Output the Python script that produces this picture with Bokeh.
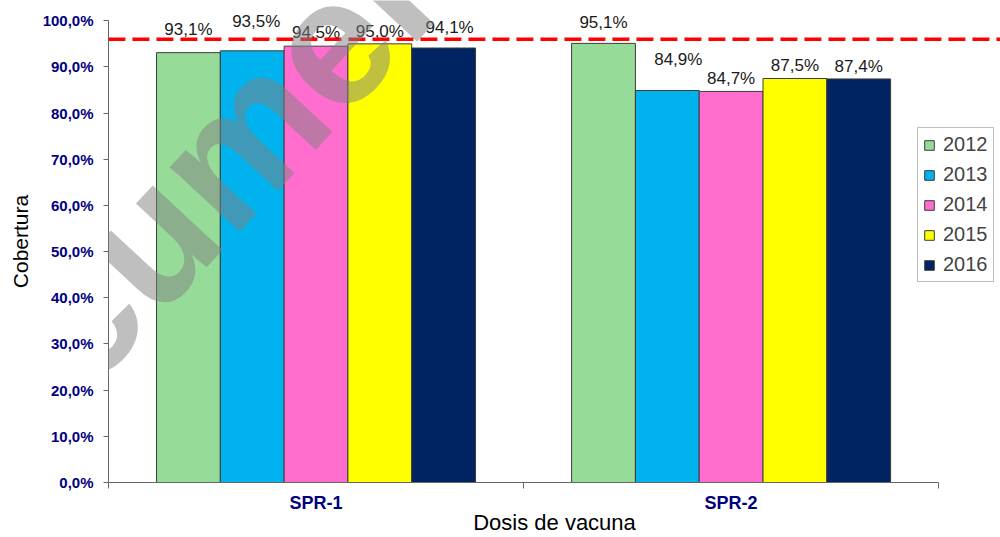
import math
from bokeh.plotting import figure
from bokeh.models import (ColumnDataSource, Range1d, FixedTicker, LabelSet,
                          Label, Arrow, Legend, LegendItem)
from bokeh.core.properties import value
from bokeh.embed import file_html
from bokeh.resources import INLINE

# ---- data -------------------------------------------------------------
categories = ["SPR-1", "SPR-2"]
years = ["2012", "2013", "2014", "2015", "2016"]
cov_2012 = [93.1, 95.1]
cov_2013 = [93.5, 84.9]
cov_2014 = [94.5, 84.7]
cov_2015 = [95.0, 87.5]
cov_2016 = [94.1, 87.4]
target = 96.0
y_ticks = [0, 10, 20, 30, 40, 50, 60, 70, 80, 90, 100]
y_tick_labels = ["0,0%", "10,0%", "20,0%", "30,0%", "40,0%", "50,0%",
                 "60,0%", "70,0%", "80,0%", "90,0%", "100,0%"]
x_title = "Dosis de vacuna"
y_title = "Cobertura"
watermark = "Documento"

series = [cov_2012, cov_2013, cov_2014, cov_2015, cov_2016]
colors = ["#96DC98", "#00B3EF", "#FF6ECF", "#FFFF00", "#002462"]

# per-label nudges (px) for the value labels, by year then category
label_dx = [[0, 0], [4, 11], [0, 0], [0, 0], [6, 0]]
label_dy = [[11, 8], [17, 18], [1, 0], [0, 0], [8, 0]]
LABEL_LIFT = 3

FONT = "Liberation Sans"
NAVY = "#000080"
AXIS_GREY = "#666666"

# the frame runs to the top and right edges; axis lines are bounded instead
p = figure(width=1000, height=537, output_backend="svg", toolbar_location=None,
           x_range=Range1d(0, 2.149), y_range=Range1d(0, 104.39),
           min_border_left=108, min_border_right=0,
           min_border_top=0, min_border_bottom=50)
p.outline_line_color = None
p.xgrid.visible = False
p.ygrid.visible = False
p.background_fill_color = "white"
p.border_fill_color = "white"

n = len(years)
bar_w = 0.1537
legend_items = []
for j, (yr, vals, col) in enumerate(zip(years, series, colors)):
    xs = [i + 0.5 + (j - (n - 1) / 2) * bar_w for i in range(len(categories))]
    src = ColumnDataSource(dict(
        x=xs, top=vals,
        txt=[f"{v:.1f}".replace(".", ",") + "%" for v in vals],
        dx=label_dx[j], dy=[d + LABEL_LIFT for d in label_dy[j]]))
    r = p.vbar(x="x", top="top", width=bar_w, source=src,
               fill_color=col, line_color="#3c3c3c", line_width=1)
    legend_items.append(LegendItem(label=yr, renderers=[r]))
    p.add_layout(LabelSet(x="x", y="top", text="txt", source=src,
                          x_offset="dx", y_offset="dy",
                          text_align="center", text_baseline="bottom",
                          text_font=value(FONT), text_font_size=value("17px"),
                          text_color="#1a1a1a"))

# target line
p.add_layout(Arrow(x_start=-0.058, y_start=target, x_end=2.2, y_end=target,
                   start=None, end=None, line_color="#FF0000",
                   line_width=3.5, line_dash="17 7"))

# y axis
yax = p.yaxis[0]
yax.bounds = (0, 100)
yax.ticker = FixedTicker(ticks=y_ticks)
yax.major_label_overrides = {t: s for t, s in zip(y_ticks, y_tick_labels)}
yax.major_label_text_font = FONT
yax.major_label_text_font_style = "bold"
yax.major_label_text_font_size = "15px"
yax.major_label_text_color = NAVY
yax.major_tick_out = 5
yax.major_tick_in = 0
yax.minor_tick_line_color = None
yax.major_label_standoff = 10
yax.axis_line_color = AXIS_GREY
yax.major_tick_line_color = AXIS_GREY
yax.axis_label = y_title
yax.axis_label_text_font = FONT
yax.axis_label_text_font_style = "normal"
yax.axis_label_text_font_size = "21px"
yax.axis_label_text_color = "black"
yax.axis_label_standoff = 8

# x axis: category names at group centres, ticks at group boundaries
xax = p.xaxis[0]
xax.bounds = (0, len(categories))
centers = [i + 0.5 for i in range(len(categories))]
xax.ticker = FixedTicker(ticks=centers,
                         minor_ticks=list(range(len(categories) + 1)))
xax.major_label_overrides = {c: s for c, s in zip(centers, categories)}
xax.major_tick_out = 0
xax.major_tick_in = 0
xax.minor_tick_out = 6
xax.minor_tick_in = 0
xax.minor_tick_line_color = AXIS_GREY
xax.axis_line_color = AXIS_GREY
xax.major_label_text_font = FONT
xax.major_label_text_font_style = "bold"
xax.major_label_text_font_size = "18px"
xax.major_label_text_color = NAVY
xax.major_label_standoff = 4
xax.axis_label = x_title
xax.axis_label_text_font = FONT
xax.axis_label_text_font_style = "normal"
xax.axis_label_text_font_size = "22px"
xax.axis_label_text_color = "black"
xax.axis_label_standoff = -6

legend = Legend(items=legend_items, location=(809, 200),
                label_text_font=FONT, label_text_font_size="20px",
                glyph_width=12, glyph_height=12, label_standoff=8,
                spacing=7, padding=5, margin=0,
                border_line_color="#808080", border_line_width=1,
                background_fill_alpha=1.0)
p.add_layout(legend, "center")

# translucent watermark across the chart
p.add_layout(Label(x=-122, y=527, x_units="canvas", y_units="canvas",
                   text=watermark, angle=math.radians(47),
                   text_font=FONT, text_font_style="bold", text_font_size="180px",
                   text_color="#808080", text_alpha=0.5,
                   text_align="left", text_baseline="alphabetic"))

open("out.html", "w").write(file_html(p, INLINE))
